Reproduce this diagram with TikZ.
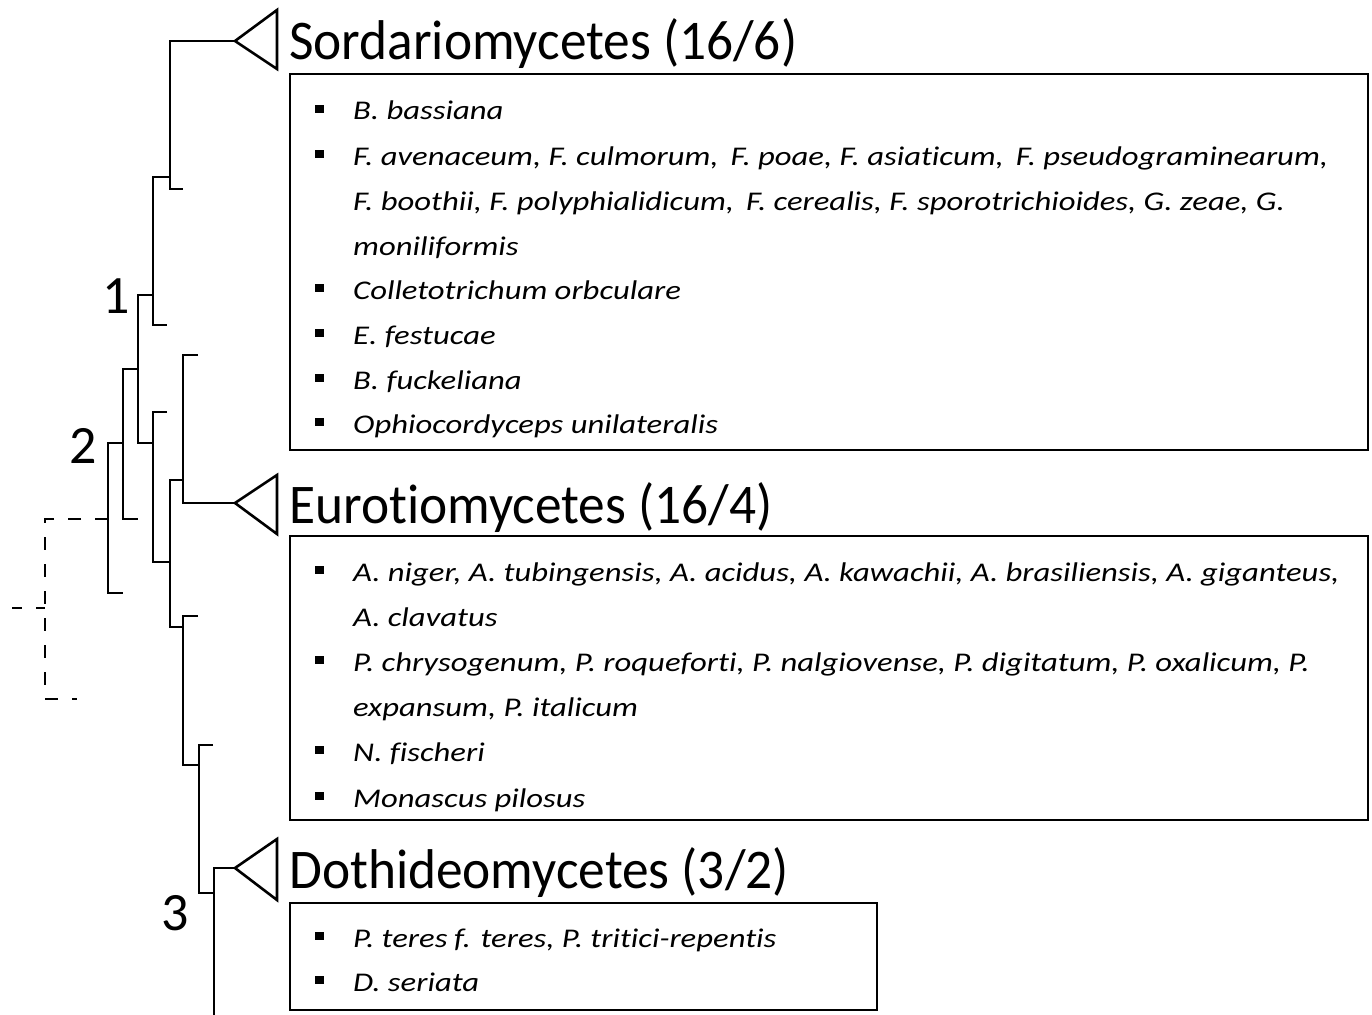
\documentclass[tikz,border=0pt]{standalone}
\usepackage{fontspec}
\setmainfont{Carlito}[Ligatures={NoCommon,NoContextual,NoRare}]
\newfontfamily\itemfont{Carlito}[FakeStretch=1.21,Ligatures={NoCommon,NoContextual,NoRare}]
\newfontfamily\titlefont{Carlito}[FakeStretch=0.953,Ligatures={NoCommon,NoContextual,NoRare}]
\begin{document}
\begin{tikzpicture}[x=1pt,y=-1pt,
  br/.style={line width=2.6pt,line cap=butt,line join=miter},
  rootdash/.style={line width=2.4pt,dash pattern=on 13pt off 14pt},
  tri/.style={line width=2.6pt,line join=miter},
  box/.style={line width=2.8pt},
  title/.style={font=\titlefont\fontsize{56}{62}\selectfont,anchor=base west,inner sep=0pt},
  item/.style={font=\itemfont\fontsize{27}{32}\selectfont\itshape,anchor=base west,inner sep=0pt},
  num/.style={font=\fontsize{54}{60}\selectfont,inner sep=0pt},
  bul/.style={fill=black,minimum width=9pt,minimum height=8pt,inner sep=0pt,draw=none}]
\useasboundingbox (0,0) rectangle (1372,1014);
\fill[white] (0,0) rectangle (1372,1014);

% ---- tree coordinates
\coordinate (s1t) at (170,41);  \coordinate (s1b) at (170,189); \coordinate (s1k) at (183,189);
\coordinate (n2t) at (153,177); \coordinate (n2b) at (153,325); \coordinate (n2k) at (167,325);
\coordinate (n1t) at (138,295); \coordinate (n1b) at (138,443);
\coordinate (n4t) at (153,412); \coordinate (n4b) at (153,562); \coordinate (n4k) at (167,412);
\coordinate (n5t) at (170,480); \coordinate (n5b) at (170,627);
\coordinate (n6t) at (183,355); \coordinate (n6b) at (183,503); \coordinate (n6k) at (198,355);
\coordinate (n7t) at (183,616); \coordinate (n7b) at (183,765); \coordinate (n7k) at (198,616);
\coordinate (n8t) at (199,745); \coordinate (n8b) at (199,893); \coordinate (n8k) at (213,745);
\coordinate (n9t) at (214,868); \coordinate (n9b) at (214,1016);
\coordinate (n10t) at (123,369); \coordinate (n10m) at (123,443); \coordinate (n10b) at (123,519); \coordinate (n10k) at (138,519);
\coordinate (n11t) at (108,443); \coordinate (n11r) at (108,519); \coordinate (n11b) at (108,593); \coordinate (n11k) at (123,593);
\coordinate (r1) at (45,519); \coordinate (r2) at (45,699); \coordinate (r3) at (77,699);
\coordinate (r4) at (12,608); \coordinate (r5) at (45,608);

% ---- triangles (collapsed clades)
\coordinate (tA) at (235,41);  \coordinate (tB) at (235,503); \coordinate (tC) at (235,868);
\draw[tri] (tA) -- (277,10) -- (277,69) -- cycle;
\draw[tri] (tB) -- (277,475) -- (277,534) -- cycle;
\draw[tri] (tC) -- (277,839) -- (277,900) -- cycle;

% ---- branches
\draw[br] (tA) -- (s1t) -- (s1b) -- (s1k);
\draw[br] (s1t |- n2t) -- (n2t) -- (n2b) -- (n2k);
\draw[br] (n2t |- n1t) -- (n1t) -- (n1b) -- (n4t |- n1b);
\draw[br] (n4k) -- (n4t) -- (n4b) -- (n5t |- n4b);
\draw[br] (n6t |- n5t) -- (n5t) -- (n5b) -- (n7t |- n5b);
\draw[br] (n6k) -- (n6t) -- (n6b) -- (tB);
\draw[br] (n7k) -- (n7t) -- (n7b) -- (n8t |- n7b);
\draw[br] (n8k) -- (n8t) -- (n8b) -- (n9t |- n8b);
\draw[br] (tC) -- (n9t) -- (n9b);
\draw[br] (n1t |- n10t) -- (n10t) -- (n10b) -- (n10k);
\draw[br] (n10m) -- (n11t) -- (n11b) -- (n11k);
\draw[rootdash] (n11r) -- (r1) -- (r2) -- (r3);
\draw[rootdash,dash phase=3pt] (r4) -- (r5);

% ---- node numbers
\node[num] (lab1) at (116,296) {1};
\node[num] (lab2) at (83,446) {2};
\node[num] (lab3) at (175,913) {3};

% ---- titles
\node[title] (tiA) at (289,60) {Sordariomycetes (16/6)};
\node[title] (tiB) at (289,523) {Eurotiomycetes (16/4)};
\node[title] (tiC) at (289,888) {Dothideomycetes (3/2)};

% ---- boxes
\draw[box] (290,74) rectangle (1368,450);
\draw[box] (290,536) rectangle (1368,820);
\draw[box] (290,903) rectangle (877,1010);

% ---- box 1 items
\node[bul] (b11) at (319,109) {};
\node[item] (i11) at (353,120) {B. bassiana};
\node[bul] (b12) at (319,154) {};
\node[item] (i12) at (353,165) {F. avenaceum, F. culmorum,\, F. poae, F. asiaticum,\, F. pseudograminearum,};
\node[item] (i12b) at (353,210) {F. boothii, F. polyphialidicum,\, F. cerealis, F. sporotrichioides, G. zeae, G.};
\node[item] (i12c) at (353,255) {moniliformis};
\node[bul] (b13) at (319,288) {};
\node[item] (i13) at (353,299) {Colletotrichum orbculare};
\node[bul] (b14) at (319,333) {};
\node[item] (i14) at (353,344) {E. festucae};
\node[bul] (b15) at (319,378) {};
\node[item] (i15) at (353,389) {B. fuckeliana};
\node[bul] (b16) at (319,422) {};
\node[item] (i16) at (353,433) {Ophiocordyceps unilateralis};

% ---- box 2 items
\node[bul] (b21) at (319,570) {};
\node[item] (i21) at (353,581) {A. niger, A. tubingensis, A. acidus, A. kawachii, A. brasiliensis, A. giganteus,};
\node[item] (i21b) at (353,626) {A. clavatus};
\node[bul] (b22) at (319,660) {};
\node[item] (i22) at (353,671) {P. chrysogenum, P. roqueforti, P. nalgiovense, P. digitatum, P. oxalicum, P.};
\node[item] (i22b) at (353,716) {expansum, P. italicum};
\node[bul] (b23) at (319,750) {};
\node[item] (i23) at (353,761) {N. fischeri};
\node[bul] (b24) at (319,796) {};
\node[item] (i24) at (353,807) {Monascus pilosus};

% ---- box 3 items
\node[bul] (b31) at (319,936) {};
\node[item] (i31) at (353,947) {P. teres\hspace{0.25em}f. teres, P. tritici-repentis};
\node[bul] (b32) at (319,980) {};
\node[item] (i32) at (353,991) {D. seriata};
\end{tikzpicture}
\end{document}
